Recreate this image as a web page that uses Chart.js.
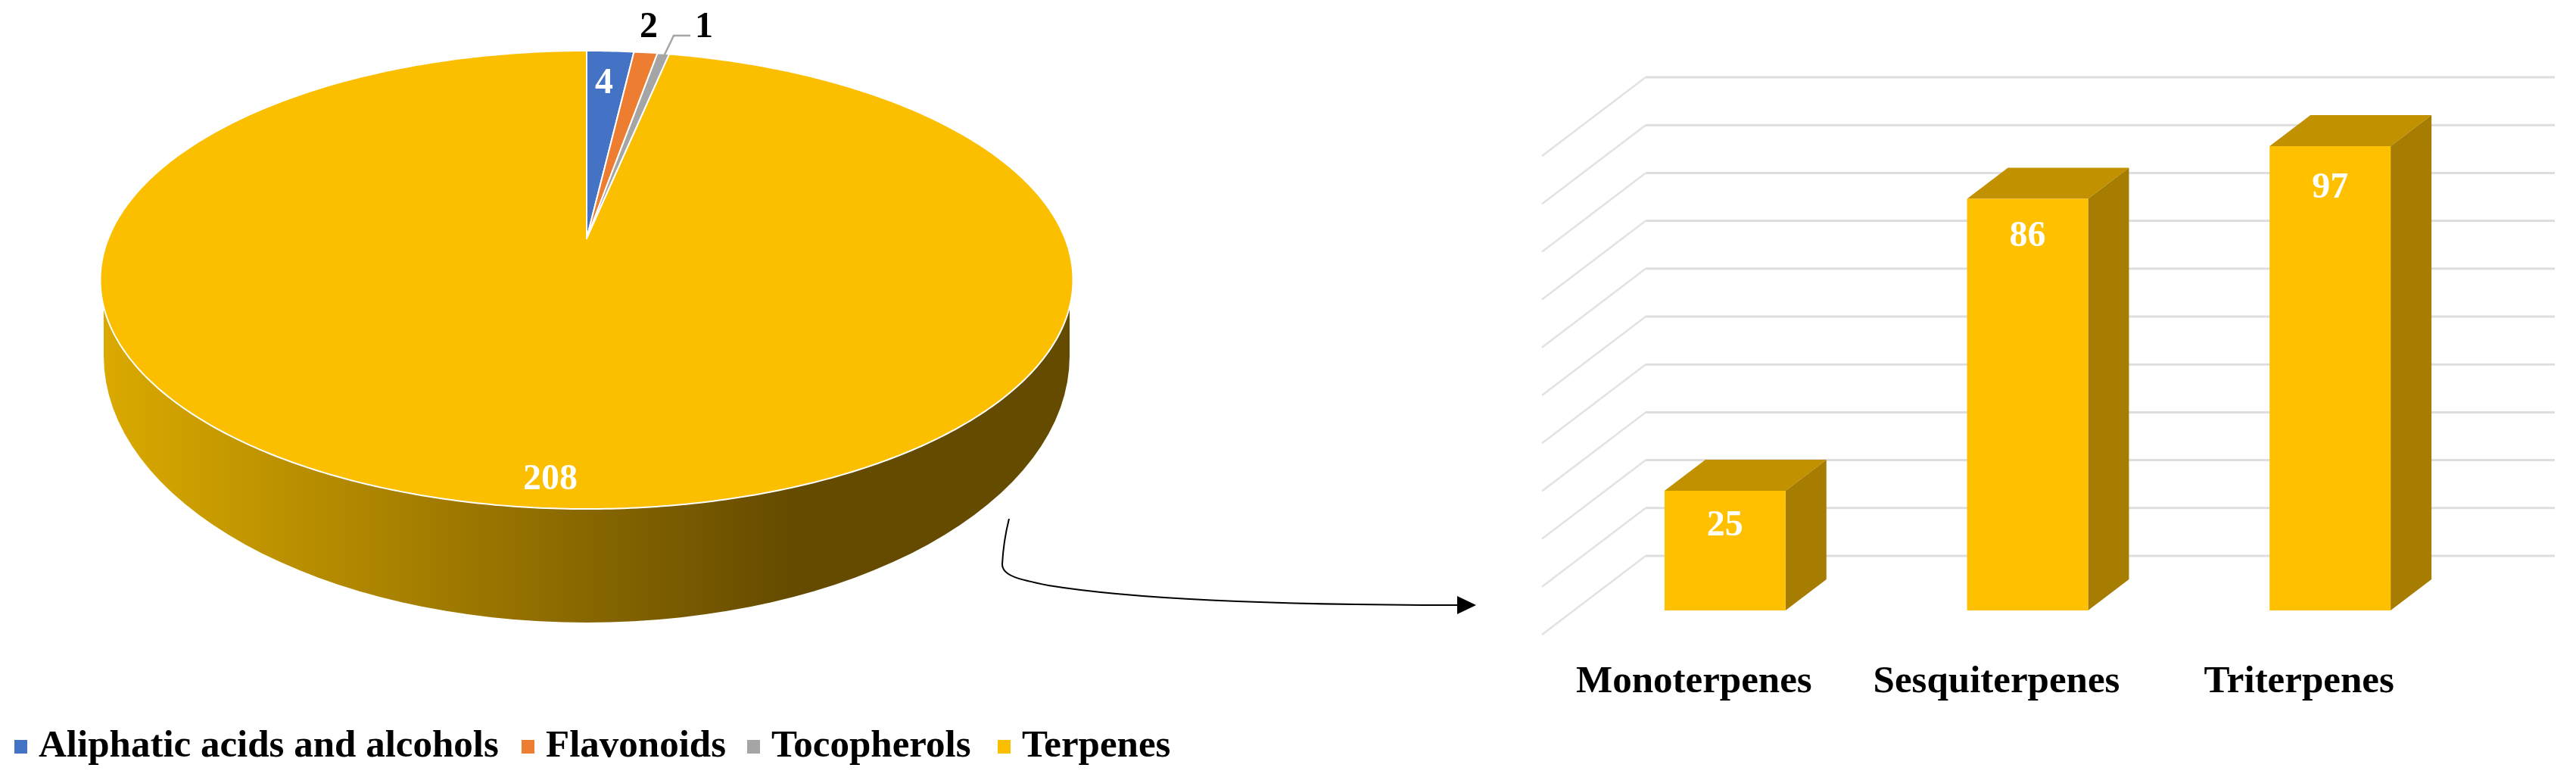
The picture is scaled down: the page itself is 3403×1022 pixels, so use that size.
<!DOCTYPE html>
<html>
<head>
<meta charset="utf-8">
<title>Terpenes</title>
<script src="https://cdn.jsdelivr.net/npm/chart.js@4"></script>
<style>
  html, body { margin: 0; padding: 0; background: #fff; overflow: hidden; }
  #pie_wrap { position: absolute; left: 0; top: 0; width: 2000px; height: 1022px; }
  #bar_wrap { position: absolute; left: 2000px; top: 0; width: 1403px; height: 1022px; }
</style>
</head>
<body>
<div id="pie_wrap"><canvas id="pie_chart"></canvas></div>
<div id="bar_wrap"><canvas id="bar_chart"></canvas></div>
<script>
// data
const classes = ["Aliphatic acids and alcohols", "Flavonoids", "Tocopherols", "Terpenes"];
const classCounts = [4, 2, 1, 208];
const classColors = ["#4472C4", "#ED7D31", "#A5A5A5", "#FBBF00"];

const terpeneTypes = ["Monoterpenes", "Sesquiterpenes", "Triterpenes"];
const terpeneCounts = [25, 86, 97];

const serif = "'Liberation Serif', 'Times New Roman', serif";
const numberFont = "bold 48px " + serif;
const textFont = "bold 51px " + serif;

// the pie is seen in perspective, so its centre sits above the middle of the ellipse
const pieCx = 775, pieCy = 315;
const pieA = 632, pieB = 292.7, pieK = 0.1802;

function project(angle) {
  const t = angle + Math.PI / 2;
  const u = Math.sin(t), v = Math.cos(t);
  const w = 1 + pieK * v;
  return [pieCx + pieA * u / w, pieCy - pieB * v / w];
}

const pie3d = {
  id: "pie3d",
  beforeDatasetDraw(chart) {
    const ctx = chart.ctx;
    const meta = chart.getDatasetMeta(0);
    const ds = chart.data.datasets[0];

    // rim
    const grad = ctx.createLinearGradient(133, 0, 1418, 0);
    grad.addColorStop(0, "#DBAA00");
    grad.addColorStop(0.71, "#654B00");
    grad.addColorStop(1, "#654B00");
    ctx.save();
    ctx.fillStyle = grad;
    ctx.beginPath();
    ctx.moveTo(137, 400);
    ctx.lineTo(137, 470);
    ctx.ellipse(775, 470, 638, 352, 0, Math.PI, 0, true);
    ctx.lineTo(1413, 400);
    ctx.closePath();
    ctx.fill();

    // top, slice by slice from the angles chart.js worked out
    meta.data.forEach(function (arc, i) {
      const start = arc.startAngle, end = arc.endAngle;
      const steps = Math.max(4, Math.ceil((end - start) * 90));
      ctx.beginPath();
      ctx.moveTo(pieCx, pieCy);
      for (let s = 0; s <= steps; s++) {
        const p = project(start + (end - start) * s / steps);
        ctx.lineTo(p[0], p[1]);
      }
      ctx.closePath();
      ctx.fillStyle = ds.backgroundColor[i];
      ctx.fill();
      ctx.strokeStyle = "#fff";
      ctx.lineWidth = 2;
      ctx.lineJoin = "round";
      ctx.stroke();
    });
    ctx.restore();
    return false;
  },
  afterDraw(chart) {
    const ctx = chart.ctx;
    const values = chart.data.datasets[0].data;
    const spots = [[798, 123, "#fff"], [857, 49, "#000"], [930, 49, "#000"], [727, 646, "#fff"]];
    ctx.save();

    // leader of the smallest slice
    ctx.strokeStyle = "#A5A5A5";
    ctx.lineWidth = 2.5;
    ctx.beginPath();
    ctx.moveTo(912, 47);
    ctx.lineTo(890, 47);
    ctx.lineTo(877, 74);
    ctx.stroke();

    ctx.font = numberFont;
    ctx.textAlign = "center";
    ctx.textBaseline = "alphabetic";
    values.forEach(function (v, i) {
      ctx.fillStyle = spots[i][2];
      ctx.fillText(String(v), spots[i][0], spots[i][1]);
    });

    // legend
    const boxX = [19, 689, 987, 1318];
    ctx.font = textFont;
    ctx.textAlign = "left";
    chart.data.labels.forEach(function (name, i) {
      ctx.fillStyle = chart.data.datasets[0].backgroundColor[i];
      ctx.fillRect(boxX[i], 977, 17, 18);
      ctx.fillStyle = "#000";
      ctx.fillText(name, boxX[i] + 32, 999);
    });

    // arrow to the second chart
    ctx.strokeStyle = "#000";
    ctx.lineWidth = 2;
    ctx.beginPath();
    ctx.moveTo(1333, 685);
    ctx.bezierCurveTo(1328, 705, 1325, 725, 1324, 745);
    ctx.bezierCurveTo(1324, 760, 1345, 765, 1385, 773);
    ctx.bezierCurveTo(1520, 795, 1750, 799, 1926, 799);
    ctx.stroke();
    ctx.fillStyle = "#000";
    ctx.beginPath();
    ctx.moveTo(1925, 787);
    ctx.lineTo(1950, 799);
    ctx.lineTo(1925, 811);
    ctx.closePath();
    ctx.fill();
    ctx.restore();
  }
};

new Chart(document.getElementById("pie_chart").getContext("2d"), {
  type: "pie",
  data: {
    labels: classes,
    datasets: [{ data: classCounts, backgroundColor: classColors, borderColor: "#fff" }]
  },
  options: {
    responsive: true,
    maintainAspectRatio: false,
    animation: false,
    plugins: { legend: { display: false }, tooltip: { enabled: false } }
  },
  plugins: [pie3d]
});

// bars are drawn by chart.js, the walls and the extra faces hang off the same scales
const bar3d = {
  id: "bar3d",
  beforeDatasetsDraw(chart) {
    const ctx = chart.ctx;
    const yScale = chart.scales.y;
    ctx.save();
    yScale.ticks.forEach(function (tick) {
      const yBack = yScale.getPixelForValue(tick.value) - 72;
      ctx.strokeStyle = "#DEDEDE";
      ctx.lineWidth = 3;
      ctx.beginPath();
      ctx.moveTo(1375, yBack);
      ctx.lineTo(174, yBack);
      ctx.stroke();
      ctx.strokeStyle = "#E2E2E2";
      ctx.lineWidth = 2.5;
      ctx.beginPath();
      ctx.moveTo(174, yBack);
      ctx.lineTo(37, yBack + 104);
      ctx.stroke();
    });

    chart.getDatasetMeta(0).data.forEach(function (bar) {
      const left = bar.x - bar.width / 2, right = bar.x + bar.width / 2;
      ctx.fillStyle = "#C29100";
      ctx.beginPath();
      ctx.moveTo(left, bar.y);
      ctx.lineTo(left + 54, bar.y - 41);
      ctx.lineTo(right + 54, bar.y - 41);
      ctx.lineTo(right, bar.y);
      ctx.closePath();
      ctx.fill();
      ctx.fillStyle = "#A67D00";
      ctx.beginPath();
      ctx.moveTo(right, bar.y);
      ctx.lineTo(right + 54, bar.y - 41);
      ctx.lineTo(right + 54, bar.base - 41);
      ctx.lineTo(right, bar.base);
      ctx.closePath();
      ctx.fill();
    });
    ctx.restore();
  },
  afterDatasetsDraw(chart) {
    const ctx = chart.ctx;
    const drops = [59, 63, 68];
    ctx.save();
    ctx.font = numberFont;
    ctx.fillStyle = "#fff";
    ctx.textAlign = "center";
    ctx.textBaseline = "alphabetic";
    chart.getDatasetMeta(0).data.forEach(function (bar, i) {
      ctx.fillText(String(chart.data.datasets[0].data[i]), bar.x, bar.y + drops[i]);
    });
    ctx.restore();
  }
};

new Chart(document.getElementById("bar_chart").getContext("2d"), {
  type: "bar",
  data: {
    labels: terpeneTypes,
    datasets: [{
      data: terpeneCounts,
      backgroundColor: "#FFC000",
      barPercentage: 0.4,
      categoryPercentage: 1
    }]
  },
  options: {
    responsive: true,
    maintainAspectRatio: false,
    animation: false,
    layout: { padding: { left: 79, right: 125, top: 174, bottom: 0 } },
    plugins: { legend: { display: false }, tooltip: { enabled: false } },
    scales: {
      x: {
        grid: { display: false },
        border: { display: false },
        afterFit: function (s) { s.height = 216; },
        ticks: {
          padding: 56,
          labelOffset: -41,
          maxRotation: 0,
          autoSkip: false,
          color: "#000",
          font: { family: serif, size: 51, weight: "bold" }
        }
      },
      y: {
        min: 0,
        max: 100,
        afterFit: function (s) { s.width = 0; },
        grid: { display: false, drawTicks: false },
        border: { display: false },
        ticks: { display: false, stepSize: 10 }
      }
    }
  },
  plugins: [bar3d]
});
</script>
</body>
</html>
